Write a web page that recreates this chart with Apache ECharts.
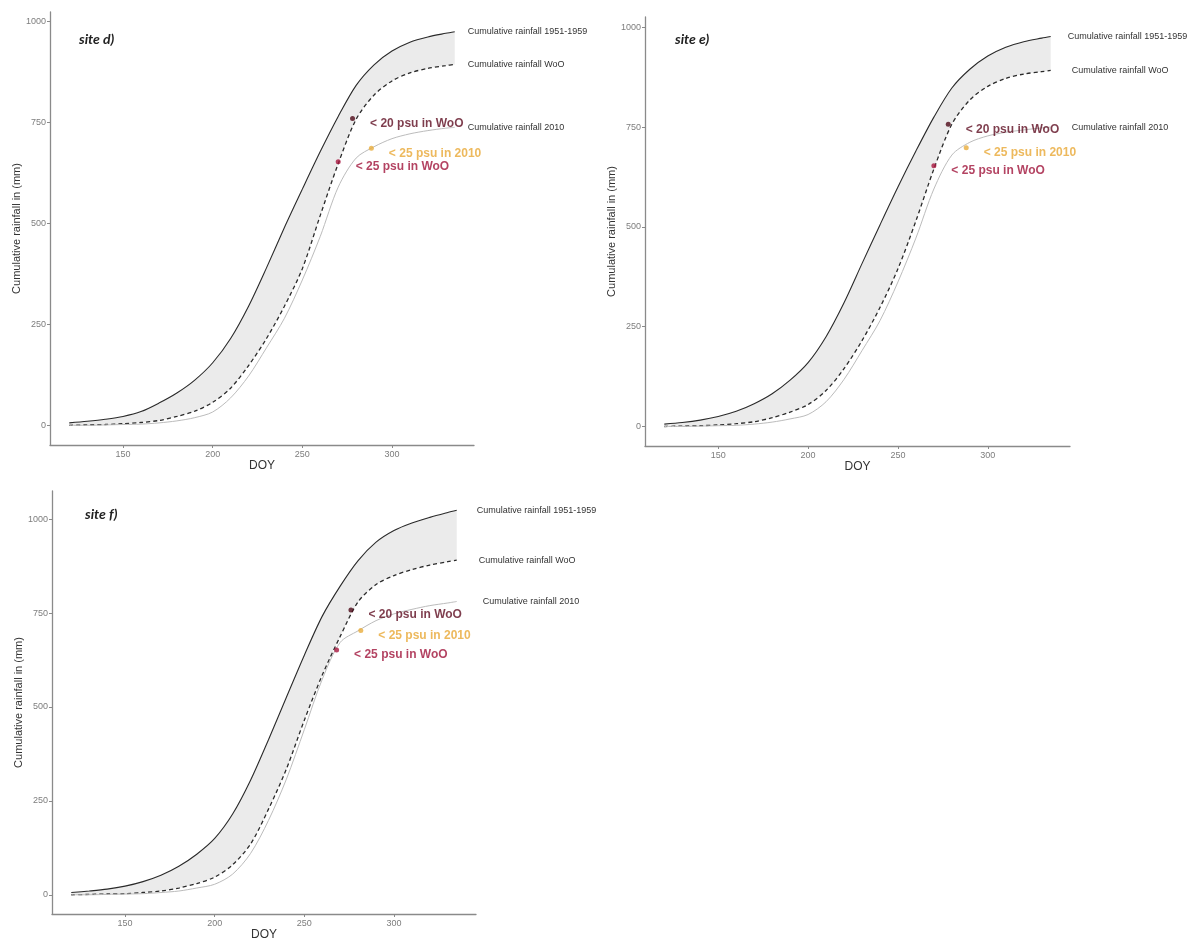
<!DOCTYPE html>
<html><head><meta charset="utf-8">
<script src="https://cdn.jsdelivr.net/npm/echarts@6/dist/echarts.min.js"></script>
<style>html,body{margin:0;padding:0;background:#fff}#c{width:1190px;height:942px}</style>
</head><body><div id="c"></div>
<script>
// ---- data ----
const doy = [120,130,140,150,160,170,180,190,200,210,220,230,240,250,260,270,280,290,300,310,320,330,335];
const xTicks = [150,200,250,300];
const yTicks = [0,250,500,750,1000];

const d1951 = [6,10,15,22,34,55,80,112,155,215,295,390,490,585,678,765,842,893,927,949,962,971,975];
const dWoO  = [0,1,2,4,7,12,22,35,57,92,148,215,295,388,520,648,758,818,853,873,884,891,894];
const d2010 = [0,0,1,2,3,6,11,19,33,68,122,192,265,360,468,590,662,690,710,722,730,736,738];
const dPoints = [[278,760],[288.5,686],[270,653]];

const e1951 = [6,10,16,25,38,57,82,116,160,225,310,408,505,600,690,775,848,895,928,950,964,973,977];
const eWoO  = [0,1,2,4,7,12,22,36,55,90,145,215,298,395,515,645,757,818,852,872,883,889,892];
const e2010 = [0,0,1,2,3,6,11,19,30,62,118,190,265,362,472,595,680,712,728,737,743,748,750];
const ePoints = [[278,757],[288,698],[270,653]];

const f1951 = [6,10,15,23,35,52,76,108,150,215,305,413,526,638,742,822,890,939,970,990,1005,1018,1024];
const fWoO  = [0,1,2,3,6,10,18,30,47,80,135,228,335,465,585,688,780,826,850,866,878,887,891];
const f2010 = [0,0,1,2,3,6,10,18,28,55,110,198,308,440,574,672,703,730,748,760,770,777,781];
const fPoints = [[276,758],[281.5,704],[268,652]];

const pointLabels = ['< 20 psu in WoO','< 25 psu in 2010','< 25 psu in WoO'];
const pointColors = ['#4f0a18','#e8ad3c','#a8173f'];
const pointTextColors = ['#5e0d20','#e8a735','#a0143b'];
const curveNames = ['Cumulative rainfall 1951-1959','Cumulative rainfall WoO','Cumulative rainfall 2010'];
const titles = ['site d)','site e)','site f)'];

// ---- layout ----
const panels = [
  {r1951:d1951, woo:dWoO, r2010:d2010, pts:dPoints, grid:{left:50, top:12, width:424, height:433},
   title:{left:74, top:27}, yGap:24, labDist:[13,13,13]},
  {r1951:e1951, woo:eWoO, r2010:e2010, pts:ePoints, grid:{left:645, top:17, width:425, height:429},
   title:{left:670, top:27}, yGap:24, labDist:[17,21,21]},
  {r1951:f1951, woo:fWoO, r2010:f2010, pts:fPoints, grid:{left:52, top:491, width:424, height:425},
   title:{left:80, top:502}, yGap:24, labDist:[20,22,26]}
];

const axisColor = '#8a8a8a';
const opt = {
  animation:false,
  backgroundColor:'#fff',
  title:[], grid:[], xAxis:[], yAxis:[], series:[]
};

const xMin = doy[0] - 0.05*(doy[doy.length-1]-doy[0]);
const xMax = doy[doy.length-1] + 0.05*(doy[doy.length-1]-doy[0]);

panels.forEach((p,i)=>{
  opt.title.push({text:titles[i], left:p.title.left, top:p.title.top,
    textStyle:{fontFamily:'Lato', fontSize:14, fontWeight:'bold', fontStyle:'italic', color:'#222'}});
  opt.grid.push(Object.assign({containLabel:false}, p.grid));
  const yMaxData = Math.max(...p.r1951);
  const yMin = -0.05*yMaxData, yMax = yMaxData*1.05;
  opt.xAxis.push({type:'value', gridIndex:i, min:xMin, max:xMax,
    name:'DOY', nameLocation:'middle', nameGap:15,
    nameTextStyle:{fontFamily:'Liberation Sans', fontSize:12, color:'#333'},
    axisLine:{show:true, onZero:false, lineStyle:{color:axisColor, width:1.3}},
    axisTick:{show:true, length:3, customValues:xTicks, lineStyle:{color:axisColor}},
    axisLabel:{customValues:xTicks, formatter:v=>String(v), fontFamily:'Liberation Sans', fontSize:9, color:'#7d7d7d', margin:5},
    splitLine:{show:false}});
  opt.yAxis.push({type:'value', gridIndex:i, min:yMin, max:yMax,
    name:'Cumulative rainfall in (mm)', nameLocation:'middle', nameGap:p.yGap,
    nameTextStyle:{fontFamily:'Liberation Sans', fontSize:11, color:'#333'},
    axisLine:{show:true, onZero:false, lineStyle:{color:axisColor, width:1.3}},
    axisTick:{show:true, length:3, customValues:yTicks, lineStyle:{color:axisColor}},
    axisLabel:{customValues:yTicks, formatter:v=>String(v), fontFamily:'Liberation Sans', fontSize:9, color:'#7d7d7d', margin:4},
    splitLine:{show:false}});
  const common = {xAxisIndex:i, yAxisIndex:i, type:'line', symbol:'none', smooth:0.3, silent:true};
  // shaded band between the WoO curve and the 1951-1959 curve (stacked on the y value: dim 0)
  opt.series.push(Object.assign({}, common, {name:'bandBase'+i, stack:'band'+i, z:1,
    encode:{x:1, y:0}, data:doy.map((x,j)=>[p.woo[j], x]), lineStyle:{opacity:0}}));
  opt.series.push(Object.assign({}, common, {name:'band'+i, stack:'band'+i, z:1,
    encode:{x:1, y:0}, data:doy.map((x,j)=>[p.r1951[j]-p.woo[j], x]), lineStyle:{opacity:0},
    areaStyle:{color:'#ebebeb', opacity:1}}));
  const lines = [
    {data:p.r1951, style:{color:'#2a2a2a', width:1.1, type:'solid'}},
    {data:p.woo, style:{color:'#2a2a2a', width:1.3, type:[4,3]}},
    {data:p.r2010, style:{color:'#bcbcbc', width:1, type:'solid'}}
  ];
  lines.forEach((l,k)=>{
    opt.series.push(Object.assign({}, common, {name:curveNames[k]+i, z:3,
      data:doy.map((x,j)=>[x,l.data[j]]), lineStyle:l.style,
      endLabel:{show:true, formatter:curveNames[k], distance:p.labDist[k], fontFamily:'Liberation Sans', fontSize:9, color:'#333'}}));
  });
  opt.series.push({type:'scatter', xAxisIndex:i, yAxisIndex:i, symbolSize:5, silent:true, z:4,
    data:p.pts.map((pt,k)=>({value:pt, itemStyle:{color:pointColors[k]},
      label:{show:true, formatter:pointLabels[k], position:'right', distance:15, offset:[0,5],
        fontFamily:'Liberation Sans', fontWeight:'bold', fontSize:12, color:pointTextColors[k]}}))});
});

const chart = echarts.init(document.getElementById('c'), null, {renderer:'canvas'});
chart.setOption(opt);
</script></body></html>
